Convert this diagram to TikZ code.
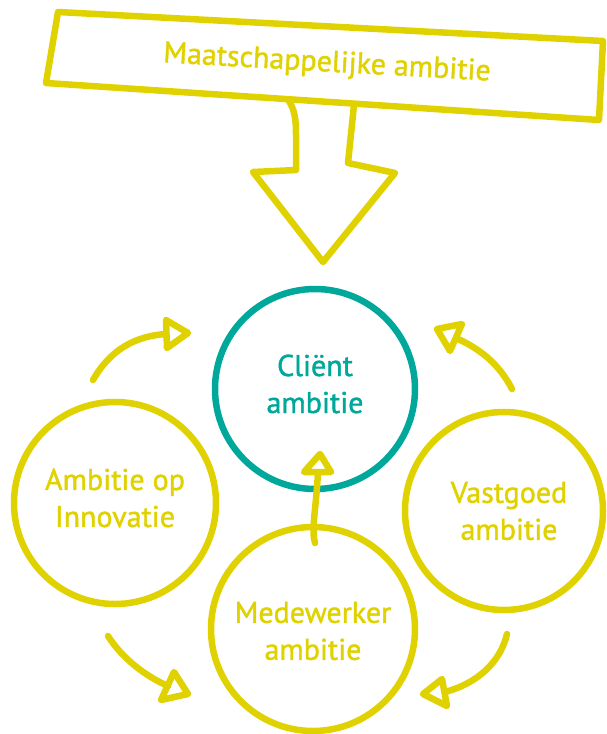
\documentclass[tikz,border=0pt]{standalone}
\usepackage{fontspec}
\newfontfamily\dinf{PT Sans}[FakeBold=1.4]
\definecolor{ylw}{RGB}{224,210,0}
\definecolor{tel}{RGB}{0,168,155}
\begin{document}
\begin{tikzpicture}[x=1pt,y=-1pt,
  ln/.style={draw=ylw, line width=6.5pt, line cap=round, line join=round},
  ring/.style={circle, draw=ylw, line width=6.5pt, inner sep=0pt},
  lbl/.style={text=ylw, align=center, font=\dinf\fontsize{30}{37}\selectfont}]
\useasboundingbox (0,0) rectangle (607,734);
% banner
\draw[ln] (58,12) -- (603,41) -- (599,120) -- (46,83) -- cycle;
\node[text=ylw, rotate=-3.2, font=\dinf\fontsize{30}{34}\selectfont] (maat) at (327,64) {Maatschappelijke ambitie};
% big arrow
\coordinate (al) at (289,101);
\coordinate (ar) at (354,105);
\coordinate (tip) at (323,262);
\draw[ln] (al) .. controls (296,112) and (296,125) .. (296,135) -- (296,170) -- (253,172) -- (tip) -- (395,173) -- (348,163) -- (ar);
% circles
\node[ring, draw=tel, minimum size=200pt] (client) at (315,389) {};
\node[lbl, text=tel] (clientt) at ([yshift=5pt]client.center) {Cliënt\\ambitie};
\node[ring, minimum size=202pt] (innov) at (115,503) {};
\node[lbl] (innovt) at ([yshift=5pt]innov.center) {Ambitie op\\Innovatie};
\node[ring, minimum size=198pt] (vast) at (504,511) {};
\node[lbl] (vastt) at ([xshift=5pt]vast.center) {Vastgoed\\ambitie};
\node[ring, minimum size=204pt] (mede) at (313,629) {};
\node[lbl] (medet) at ([yshift=-2pt]mede.center) {Medewerker\\ambitie};
% cycle arrows
\coordinate (a1) at (93,380);  \coordinate (b1) at (166,334);
\coordinate (a2) at (512,389); \coordinate (b2) at (456,338);
\coordinate (a3) at (108,636); \coordinate (b3) at (168,686);
\coordinate (a4) at (507,634); \coordinate (b4) at (445,692);
\coordinate (a5) at (315,543); \coordinate (b5) at (318,472);
\draw[ln] (a1) .. controls (110,350) and (135,336) .. (b1);
\draw[ln] (166,320) -- (188,333) -- (167,348) -- cycle;
\draw[ln] (a2) .. controls (498,362) and (478,348) .. (b2);
\draw[ln] (437,329) -- (462,324) -- (450,351) -- cycle;
\draw[ln] (a3) .. controls (122,658) and (145,676) .. (b3);
\draw[ln] (174,672) -- (188,694) -- (161,700) -- cycle;
\draw[ln] (a4) .. controls (500,664) and (475,684) .. (b4);
\draw[ln] (423,694) -- (442,679) -- (447,706) -- cycle;
\draw[ln] (a5) .. controls (311,530) and (316,510) .. (b5);
\draw[ln] (320,454) -- (304,472) -- (331,472) -- cycle;
\end{tikzpicture}
\end{document}
